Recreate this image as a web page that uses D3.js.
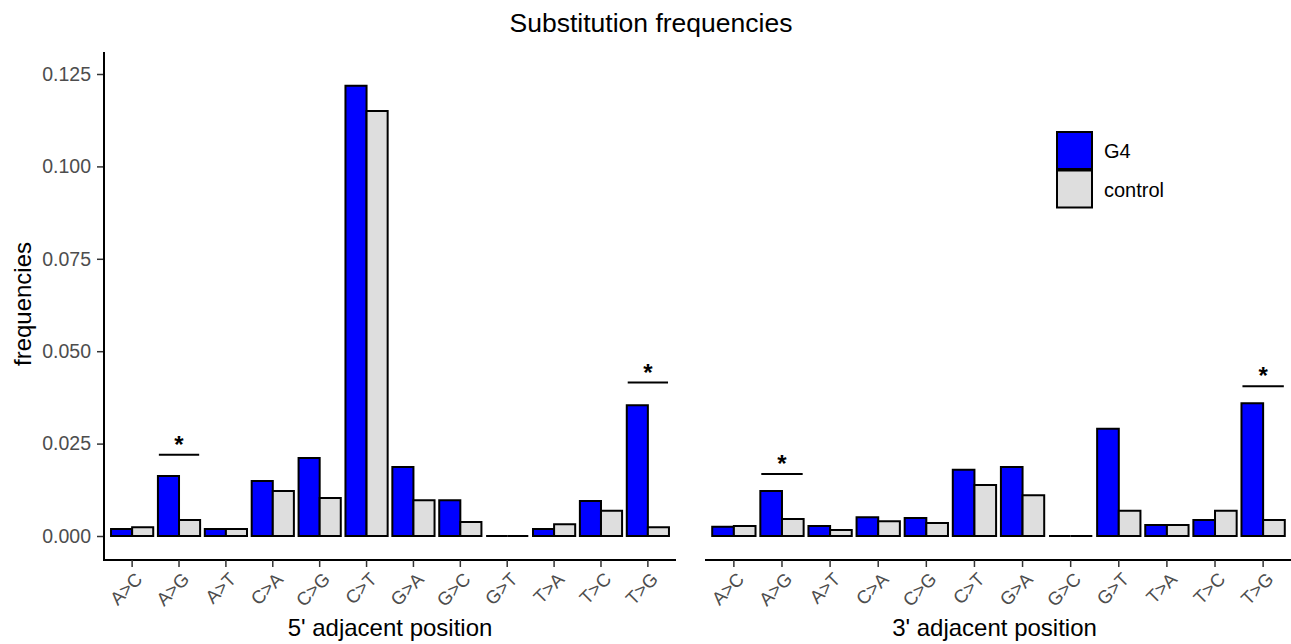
<!DOCTYPE html>
<html>
<head>
<meta charset="utf-8">
<script src="https://cdn.jsdelivr.net/npm/d3@7"></script>
<style>
  body { margin: 0; background: #fff; }
  text { font-family: "Liberation Sans", Arial, sans-serif; }
</style>
</head>
<body>
<svg id="chart" width="1291" height="644"></svg>
<script>
// substitution types, same for both plots
var substitutions = ["A>C", "A>G", "A>T", "C>A", "C>G", "C>T", "G>A", "G>C", "G>T", "T>A", "T>C", "T>G"];
var groups = ["G4", "control"];
var panels = ["5' adjacent position", "3' adjacent position"];

var g4Five      = [0.0019, 0.0162, 0.0019, 0.0149, 0.0211, 0.1218, 0.0187, 0.0097, 0, 0.0019, 0.0095, 0.0354];
var controlFive = [0.0024, 0.0043, 0.0019, 0.0122, 0.0103, 0.1150, 0.0097, 0.0038, 0, 0.0032, 0.0068, 0.0024];
var g4Three      = [0.0025, 0.0122, 0.0027, 0.0051, 0.0049, 0.0179, 0.0187, 0, 0.0290, 0.0030, 0.0043, 0.0359];
var controlThree = [0.0027, 0.0046, 0.0016, 0.0040, 0.0035, 0.0138, 0.0110, 0, 0.0068, 0.0030, 0.0068, 0.0043];

// significance brackets: [panel index, substitution, bracket height]
var signif = [[0, "A>G", 0.0220], [0, "T>G", 0.0415], [1, "A>G", 0.0168], [1, "T>G", 0.0405]];

var yTicks = [0, 0.025, 0.05, 0.075, 0.1, 0.125];

var colors = { "G4": "#0000ff", "control": "#dedede" };

var svg = d3.select("#chart");
var plotTop = 52, axisY = 560;

var y = d3.scaleLinear().domain([0, 0.125]).range([536, 74]);

// two side by side plots, only the first one carries a y axis
var panelX = [104, 705], panelW = [572, 587];
var seriesByPanel = [[g4Five, controlFive], [g4Three, controlThree]];

svg.append("text")
    .attr("x", 651).attr("y", 32)
    .attr("text-anchor", "middle")
    .attr("font-size", 26.5)
    .text("Substitution frequencies");

svg.append("text")
    .attr("transform", "translate(31,304) rotate(-90)")
    .attr("text-anchor", "middle")
    .attr("font-size", 24)
    .text("frequencies");

var yAxis = svg.append("g")
    .attr("transform", "translate(" + panelX[0] + ",0)")
    .call(d3.axisLeft(y).tickValues(yTicks).tickFormat(d3.format(".3f")).tickSize(7).tickPadding(6));
yAxis.select(".domain").remove();
yAxis.selectAll("line").attr("stroke", "#333").attr("stroke-width", 1.5);
yAxis.selectAll("text")
    .attr("font-size", 19.5)
    .attr("fill", "#4d4d4d")
    .attr("font-family", "Liberation Sans, Arial, sans-serif");
svg.append("line")
    .attr("x1", panelX[0]).attr("x2", panelX[0])
    .attr("y1", plotTop).attr("y2", axisY + 1)
    .attr("stroke", "#000").attr("stroke-width", 2);

var barPath = function (x0, y0, w, h) {
    return "M" + x0 + "," + y0 + "h" + w + "v" + h + "h" + (-w) + "Z";
};

panels.forEach(function (title, p) {
    // discrete scale with 0.6 expansion on both sides
    var step = panelW[p] / 12.2;
    var x = d3.scalePoint()
        .domain(substitutions)
        .range([panelX[p] + step * 0.6, panelX[p] + panelW[p] - step * 0.6]);
    var sub = d3.scaleBand().domain(groups).range([-step * 0.45, step * 0.45]);

    var rows = [];
    substitutions.forEach(function (s, i) {
        groups.forEach(function (grp, k) {
            rows.push({ sub: s, group: grp, value: seriesByPanel[p][k][i] });
        });
    });

    svg.append("g").selectAll("path.bar").data(rows).enter().append("path")
        .attr("class", "bar")
        .attr("d", function (d) {
            return barPath(x(d.sub) + sub(d.group), y(d.value), sub.bandwidth(), y(0) - y(d.value));
        })
        .attr("fill", function (d) { return colors[d.group]; })
        .attr("stroke", "#000")
        .attr("stroke-width", 2);

    var ax = svg.append("g")
        .attr("transform", "translate(0," + axisY + ")");
    ax.append("line")
        .attr("x1", panelX[p]).attr("x2", panelX[p] + panelW[p])
        .attr("stroke", "#000").attr("stroke-width", 2);
    var ticks = ax.selectAll("g.tick").data(substitutions).enter().append("g")
        .attr("transform", function (s) { return "translate(" + x(s) + ",0)"; });
    ticks.append("line").attr("y2", 7).attr("stroke", "#333").attr("stroke-width", 1.5);
    ticks.append("text")
        .attr("transform", "translate(2,11) rotate(-45)")
        .attr("text-anchor", "end")
        .attr("dy", "0.72em")
        .attr("font-size", 18.5)
        .attr("fill", "#4d4d4d")
        .text(function (s) { return s; });

    svg.append("text")
        .attr("x", panelX[p] + panelW[p] / 2 - (p === 1 ? 4 : 0)).attr("y", 636)
        .attr("text-anchor", "middle")
        .attr("font-size", 24)
        .text(title);

    signif.filter(function (d) { return d[0] === p; }).forEach(function (d) {
        var cx = x(d[1]);
        svg.append("line")
            .attr("x1", cx - step * 0.43).attr("x2", cx + step * 0.43)
            .attr("y1", y(d[2])).attr("y2", y(d[2]))
            .attr("stroke", "#000").attr("stroke-width", 2);
        svg.append("text")
            .attr("x", cx).attr("y", y(d[2]) - 2)
            .attr("text-anchor", "middle")
            .attr("font-size", 24)
            .attr("font-weight", "bold")
            .text("*");
    });
});

// legend
var legend = svg.append("g").attr("transform", "translate(1057,132)");
groups.forEach(function (grp, i) {
    legend.append("rect")
        .attr("x", 0).attr("y", i * 38.5)
        .attr("width", 35).attr("height", 37)
        .attr("fill", colors[grp])
        .attr("stroke", "#000").attr("stroke-width", 2);
    legend.append("text")
        .attr("x", 47).attr("y", i * 38.5 + 19)
        .attr("dy", "0.35em")
        .attr("font-size", 20)
        .text(grp);
});
</script>
</body>
</html>
